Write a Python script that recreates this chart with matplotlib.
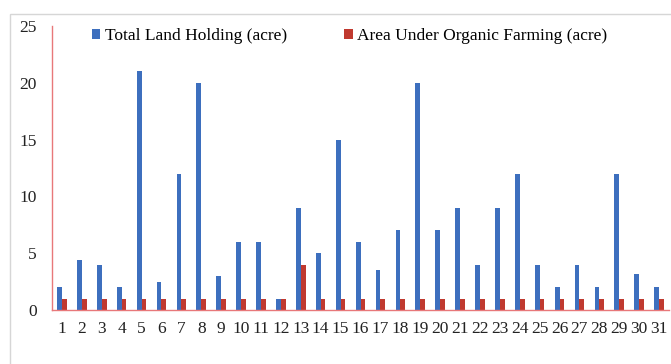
"""Grouped bar chart: total land holding vs. area under organic farming per farmer."""

import matplotlib
matplotlib.use("Agg")
import matplotlib.pyplot as plt
from matplotlib.patches import Rectangle
import numpy as np

farmers = [str(i) for i in range(1, 32)]
total_land = [2, 4.4, 4, 2, 21, 2.5, 12, 20, 3, 6, 6, 1, 9, 5, 15, 6,
              3.5, 7, 20, 7, 9, 4, 9, 12, 4, 2, 4, 2, 12, 3.2, 2]
organic_area = [1, 1, 1, 1, 1, 1, 1, 1, 1, 1, 1, 1, 4, 1, 1, 1,
                1, 1, 1, 1, 1, 1, 1, 1, 1, 1, 1, 1, 1, 1, 1]
y_ticks = [0, 5, 10, 15, 20, 25]

BLUE = "#3d6fbe"
RED = "#c0392f"
AXIS_RED = "#e8787a"

plt.rcParams.update({
    "font.family": ["Liberation Serif", "DejaVu Serif"],
    "font.size": 12.5,
})

fig = plt.figure(figsize=(6.71, 3.64), dpi=100)
ax = fig.add_axes([52 / 671, 54 / 364, 617 / 671, 284 / 364])

# light outer frame like the exported chart area
fig.patches.append(Rectangle((10 / 671, -0.05), 1.2, 1 - 14 / 364 + 0.05,
                             transform=fig.transFigure, fill=False,
                             edgecolor="#d6d6d6", linewidth=1.0))

x = np.arange(len(farmers))
w = 0.24
ax.bar(x - w / 2, total_land, width=w, color=BLUE, label="Total Land Holding (acre)")
ax.bar(x + w / 2, organic_area, width=w, color=RED, label="Area Under Organic Farming (acre)")

ax.set_xlim(-0.5, len(farmers) - 0.5)
ax.set_ylim(0, 25)
ax.set_xticks(x)
ax.set_xticklabels(farmers)
ax.set_yticks(y_ticks)
ax.tick_params(axis="both", length=0, labelsize=12.5, colors="#222222")
ax.tick_params(axis="y", pad=11)
ax.tick_params(axis="x", pad=8)

for side in ("top", "right"):
    ax.spines[side].set_visible(False)
for side in ("left", "bottom"):
    ax.spines[side].set_color(AXIS_RED)
    ax.spines[side].set_linewidth(1.0)

ax.legend(loc="center", bbox_to_anchor=(0.521, 0.9), bbox_transform=fig.transFigure,
          ncol=2, frameon=False, fontsize=12.5, handlelength=0.5, handleheight=0.5,
          handletextpad=0.25, columnspacing=3.3)

fig.savefig("out.png", dpi=100)
